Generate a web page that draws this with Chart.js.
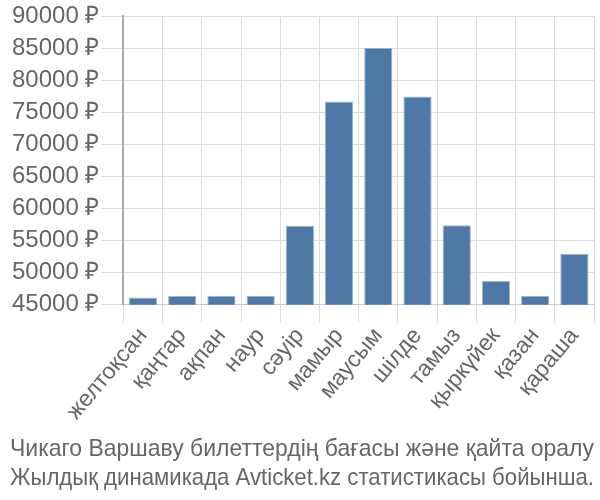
<!DOCTYPE html>
<html>
<head>
<meta charset="utf-8">
<script src="https://cdn.jsdelivr.net/npm/chart.js@4"></script>
<style>
  html, body { margin: 0; padding: 0; background: #fff; }
  #wrap { width: 600px; height: 500px; }
</style>
</head>
<body>
<div id="wrap"><canvas id="priceChart"></canvas></div>
<script>
// айлар
const months = ['желтоқсан', 'қаңтар', 'ақпан', 'наур', 'сәуір', 'мамыр', 'маусым', 'шілде', 'тамыз', 'қыркүйек', 'қазан', 'қараша'];
// баға, ₽
const prices = [46100, 46400, 46400, 46400, 57300, 76700, 85100, 77500, 57400, 48700, 46400, 52900];
const yMin = 45000;
const yMax = 90000;
const yStep = 5000;
const captionLines = ['Чикаго Варшаву билеттердің бағасы және қайта оралу', 'Жылдық динамикада Avticket.kz статистикасы бойынша.'];

Chart.defaults.font.family = '"Liberation Sans", Arial, sans-serif';
Chart.defaults.color = '#666';

const ctx = document.getElementById('priceChart').getContext('2d');
new Chart(ctx, {
    type: 'bar',
    data: {
        labels: months,
        datasets: [{
            data: prices,
            backgroundColor: '#4e79a7',
            borderColor: '#9fb6cf',
            borderWidth: { top: 1, left: 1, right: 1, bottom: 0 },
            categoryPercentage: 0.8,
            barPercentage: 0.9
        }]
    },
    options: {
        responsive: true,
        maintainAspectRatio: false,
        animation: false,
        layout: { padding: { top: 4, right: 6, left: 10, bottom: 0 } },
        plugins: {
            legend: { display: false },
            tooltip: { enabled: false },
            title: {
                display: true,
                text: captionLines,
                position: 'bottom',
                align: 'start',
                color: '#666',
                font: { size: 24, weight: 'normal' },
                lineHeight: 1.15,
                padding: { top: 10, bottom: 7 }
            }
        },
        scales: {
            x: {
                grid: { color: '#ddd', tickLength: 18, offset: true },
                border: { color: '#ccc' },
                ticks: { font: { size: 23 }, minRotation: 50, maxRotation: 50, padding: 0, autoSkip: false }
            },
            y: {
                min: yMin,
                max: yMax,
                grid: { color: '#ddd', tickLength: 22 },
                border: { color: '#aaa', width: 2 },
                ticks: {
                    stepSize: yStep,
                    autoSkip: false,
                    font: { size: 24 },
                    padding: 2,
                    callback: v => v + ' ₽'
                }
            }
        }
    }
});
</script>
</body>
</html>
